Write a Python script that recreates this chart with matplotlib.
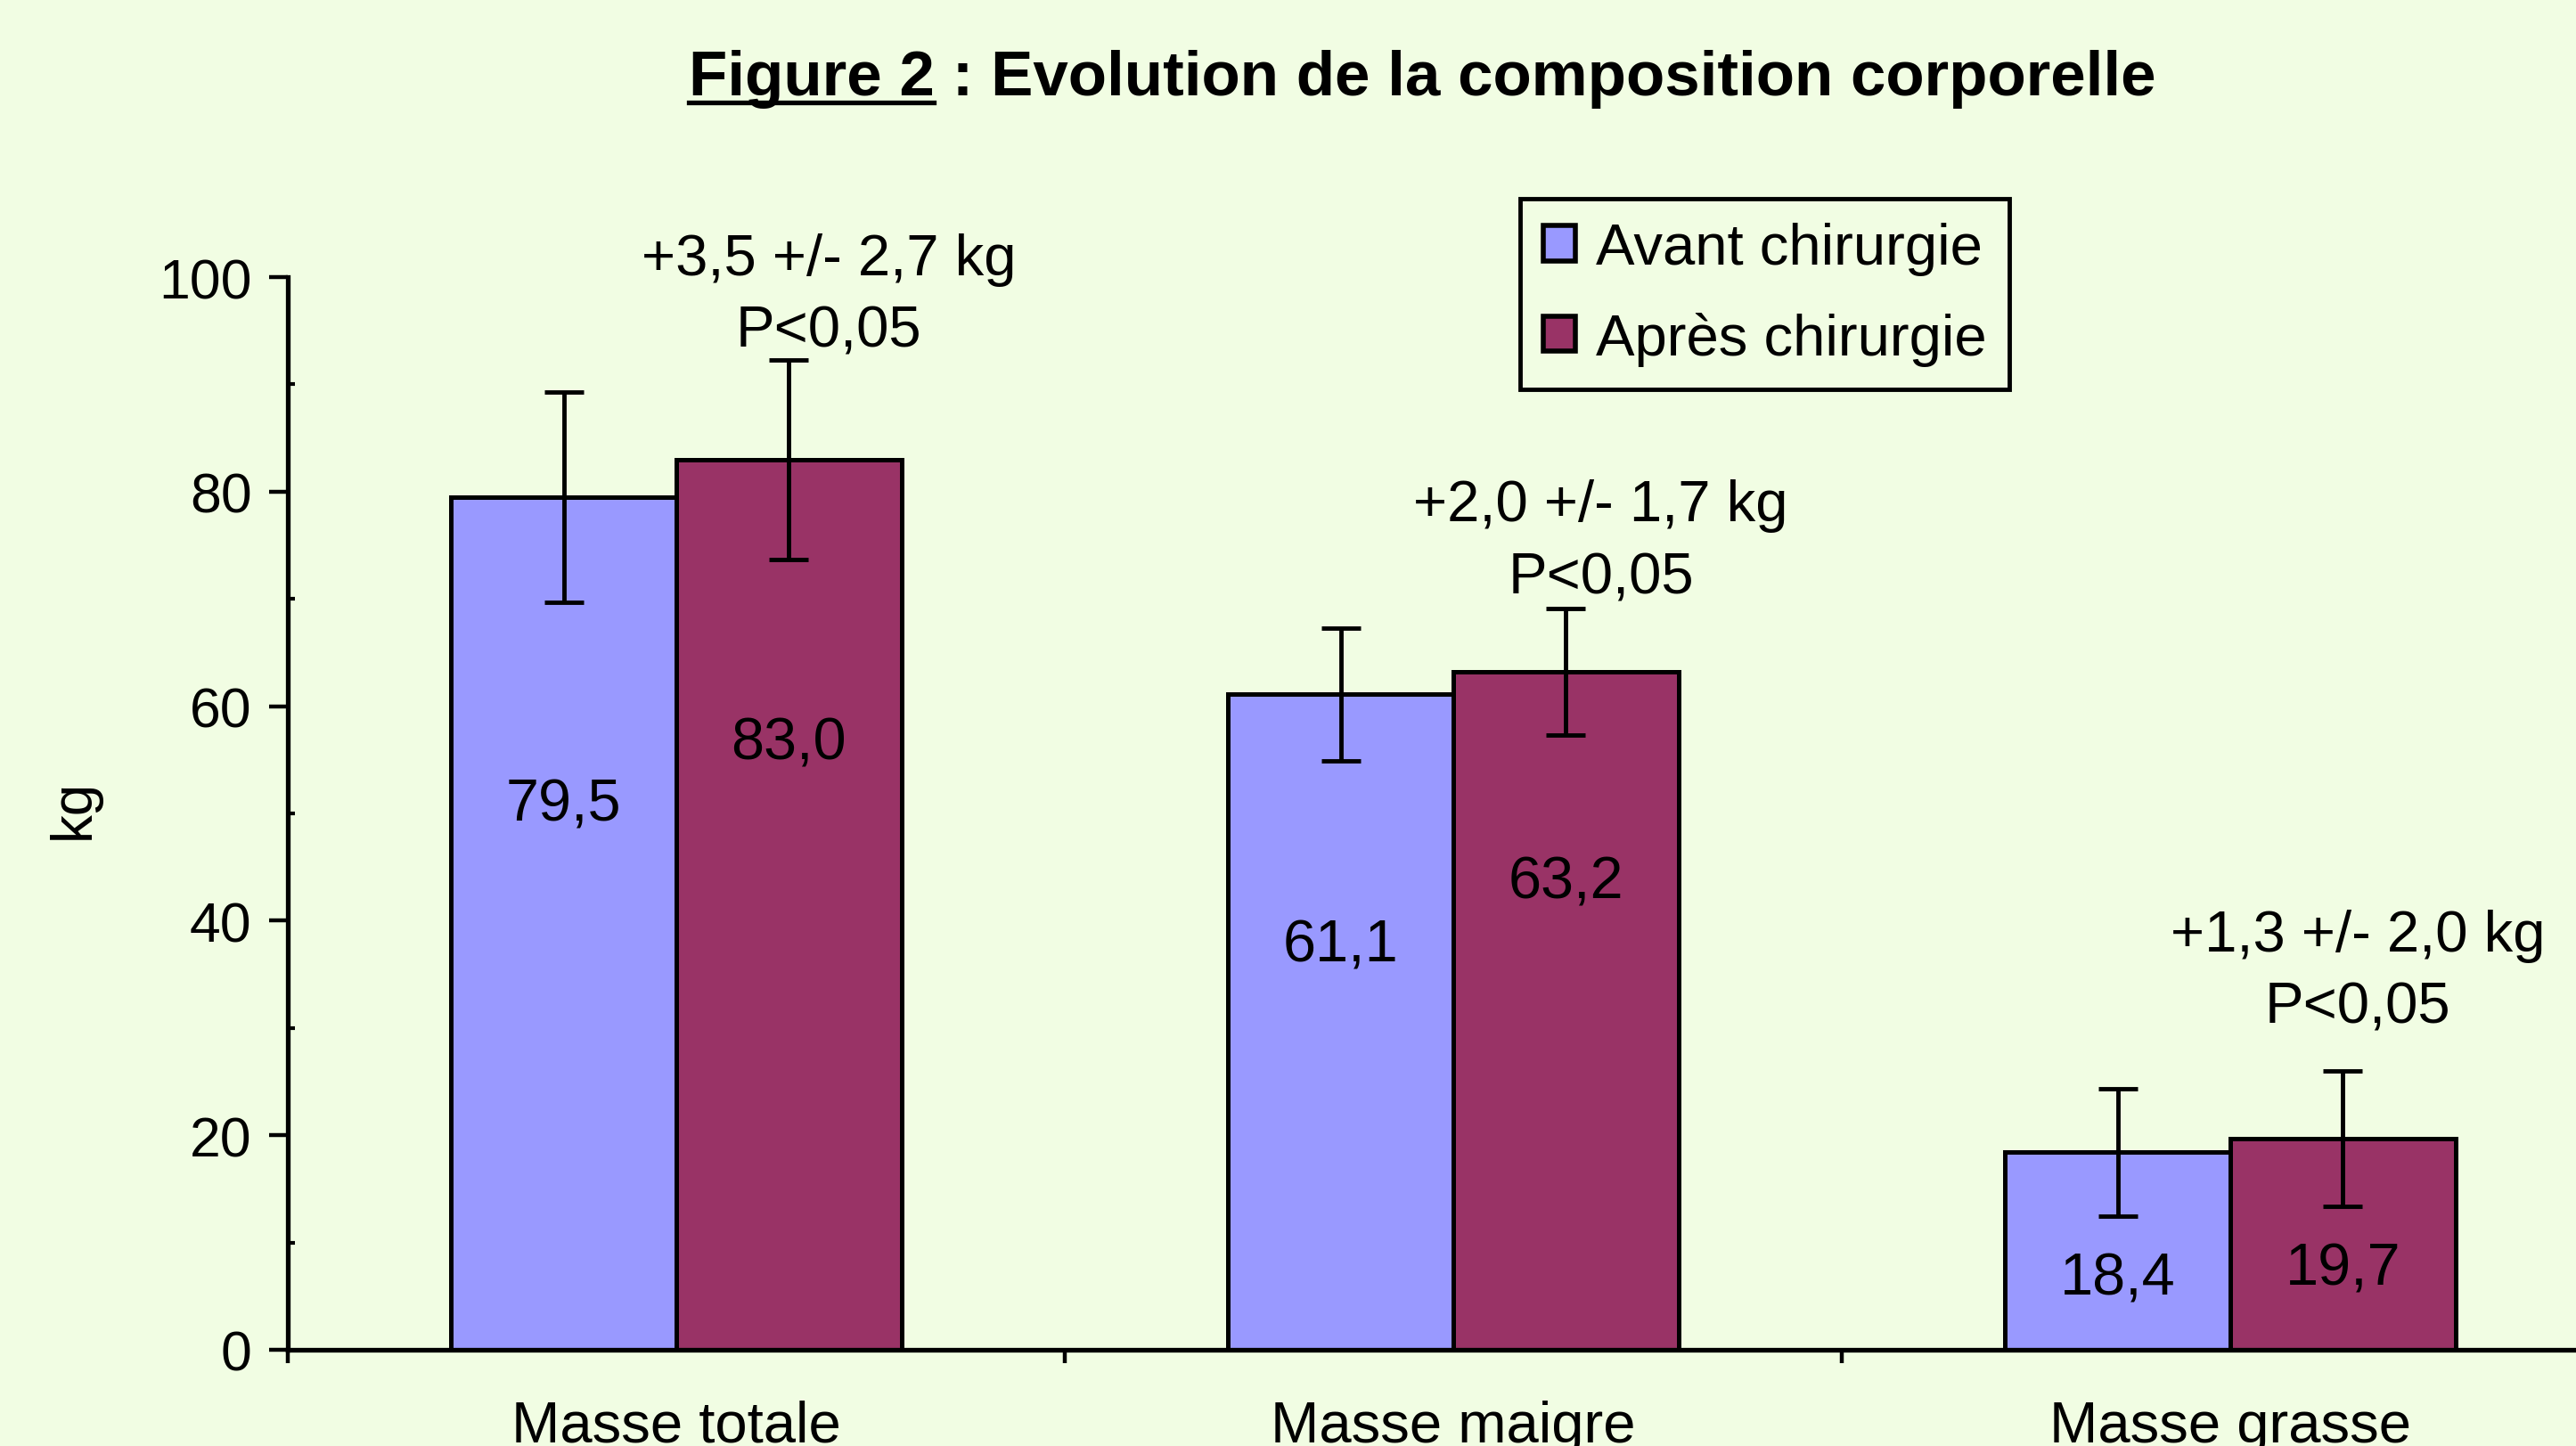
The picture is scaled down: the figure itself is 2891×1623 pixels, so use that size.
import numpy as np
import matplotlib
matplotlib.use('Agg')
import matplotlib.pyplot as plt
from matplotlib.lines import Line2D

plt.rcParams['font.family'] = ['Liberation Sans', 'DejaVu Sans']

# data
categories = ['Masse totale', 'Masse maigre', 'Masse grasse']
avant = [79.5, 61.1, 18.4]
apres = [83.0, 63.2, 19.7]
err_avant = [9.8, 6.2, 5.9]
err_apres = [9.3, 5.9, 6.3]
avant_txt = ['79,5', '61,1', '18,4']
apres_txt = ['83,0', '63,2', '19,7']
diff_txt = ['+3,5 +/- 2,7 kg', '+2,0 +/- 1,7 kg', '+1,3 +/- 2,0 kg']
p_txt = ['P<0,05', 'P<0,05', 'P<0,05']

# layout
bg = '#F1FDE3'
c_avant = '#9999FF'
c_apres = '#993366'
w = 0.29
lab_y_avant = [50.8, 37.7, 6.6]
lab_y_apres = [56.5, 43.6, 7.5]
ann_x = [0.196, 1.19, 2.164]
ann_y = [101.7, 78.7, 38.6]

W, H = 2891, 1624
fig = plt.figure(figsize=(W/100, H/100), dpi=100)
fig.patch.set_facecolor(bg)
ax = fig.add_axes([323/W, 1-1516/H, 1-323/W, (1516-312)/H])
ax.set_facecolor(bg)

x = np.arange(len(categories))
ekw = dict(elinewidth=3.5, capthick=3.5, ecolor='black')
ax.bar(x - w/2, avant, w, color=c_avant, edgecolor='black', linewidth=3.6,
       yerr=err_avant, capsize=16, error_kw=ekw, label='Avant chirurgie', zorder=2)
ax.bar(x + w/2, apres, w, color=c_apres, edgecolor='black', linewidth=3.6,
       yerr=err_apres, capsize=16, error_kw=ekw, label='Après chirurgie', zorder=2)

for i in range(len(categories)):
    ax.text(x[i] - w/2, lab_y_avant[i], avant_txt[i], ha='center', va='center', fontsize=48)
    ax.text(x[i] + w/2, lab_y_apres[i], apres_txt[i], ha='center', va='center', fontsize=48)
    ax.text(ann_x[i], ann_y[i], diff_txt[i], ha='center', va='center', fontsize=47)
    ax.text(ann_x[i], ann_y[i] - 6.7, p_txt[i], ha='center', va='center', fontsize=47)

ax.set_xlim(-0.5, 2.445)
ax.set_ylim(0, 100)
for s in ['top', 'right']:
    ax.spines[s].set_visible(False)
for s in ['left', 'bottom']:
    ax.spines[s].set_linewidth(3.8)

ax.set_yticks([0, 20, 40, 60, 80, 100])
ax.set_yticks([10, 30, 50, 70, 90], minor=True)
ax.tick_params(axis='y', which='major', labelsize=45, length=15, width=3.2, direction='out', pad=14)
ax.tick_params(axis='y', which='minor', length=6, width=3, direction='in')

ax.set_xticks([-0.5, 0.5, 1.5])
ax.set_xticklabels([])
ax.set_xticks(x, minor=True)
ax.set_xticklabels(categories, minor=True)
ax.tick_params(axis='x', which='major', length=11, width=3.2, direction='out')
ax.tick_params(axis='x', which='minor', length=0, labelsize=47, pad=40)

fig.text(83/W, 1-493/881, 'kg', rotation=90, ha='center', va='center', fontsize=46)

leg = ax.legend(loc='upper left', bbox_to_anchor=(0.59, 0.862), bbox_transform=fig.transFigure,
                fontsize=47, frameon=True, fancybox=False, edgecolor='black', facecolor=bg,
                framealpha=1, handlelength=0.55, handleheight=0.55, handletextpad=0.35,
                labelspacing=0.62, borderpad=0.4, borderaxespad=0)
leg.get_frame().set_linewidth(3.5)
for p in leg.get_patches():
    p.set_linewidth(4)

# title with underlined "Figure 2"
title = fig.text(0.552, 0.945, 'Figure 2 : Evolution de la composition corporelle',
                 ha='center', va='center', fontsize=51, fontweight='bold')
r = fig.canvas.get_renderer()
bb = title.get_window_extent(r)
part = fig.text(0, 0, 'Figure 2', fontsize=51, fontweight='bold', alpha=0)
pb = part.get_window_extent(r)
uy = (bb.y0 + 6) / H
fig.add_artist(Line2D([bb.x0 / W, (bb.x0 + pb.width) / W], [uy, uy], color='black', linewidth=3.8))

fig.savefig('out.png', dpi=100, facecolor=bg)
